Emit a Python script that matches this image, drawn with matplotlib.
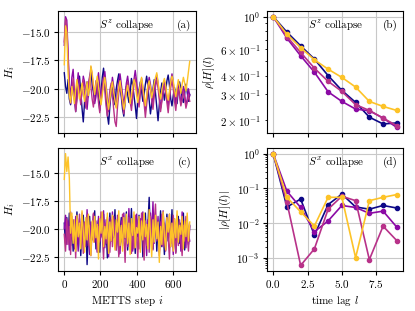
import numpy as np
import matplotlib
matplotlib.use("Agg")
import matplotlib.pyplot as plt

plt.rcParams['font.family'] = 'serif'
plt.rcParams['font.serif'] = ['cmr10']
plt.rcParams['mathtext.fontset'] = 'cm'
plt.rcParams['axes.formatter.use_mathtext'] = True
plt.rcParams['font.size'] = 8
for a in ['xtick', 'ytick']:
    plt.rcParams[a + '.major.size'] = 3.0
    plt.rcParams[a + '.minor.size'] = 1.8
    plt.rcParams[a + '.major.pad'] = 2.2
    plt.rcParams[a + '.minor.pad'] = 2.2
plt.rcParams['axes.labelpad'] = 2.5

colors = ['#0d0887', '#8b0aa5', '#b83289', '#fdc328']

# METTS time series, sampled every 7 steps
step_stride = 7
A_navy = [-18.6,-19.8,-20.4,-19.2,-20.9,-21.4,-20.1,-19.5,-20.8,-22.0,
-20.6,-19.3,-18.9,-20.2,-21.7,-22.9,-21.2,-20.0,-19.4,-20.7,
-19.1,-18.4,-19.6,-20.3,-21.0,-20.1,-19.2,-20.6,-21.9,-20.4,
-19.0,-18.2,-19.5,-20.8,-22.3,-23.1,-21.5,-20.2,-19.6,-20.9,
-21.4,-20.0,-19.3,-18.7,-19.9,-20.7,-21.8,-22.4,-21.1,-19.8,
-20.5,-21.2,-20.3,-19.1,-19.7,-20.6,-21.5,-22.6,-21.0,-20.1,
-19.4,-20.2,-21.1,-20.5,-19.6,-18.9,-19.8,-21.0,-22.2,-21.3,
-20.0,-19.2,-20.4,-21.6,-22.8,-21.4,-20.3,-19.5,-20.1,-21.0,
-20.2,-19.3,-18.8,-19.7,-20.9,-21.5,-20.6,-19.9,-20.7,-21.3,
-20.1,-19.4,-20.0,-20.8,-21.2,-20.4,-19.6,-20.3,-21.1,-20.5]
A_purple = [-16.2,-13.7,-14.0,-16.8,-19.6,-20.8,-19.0,-18.3,-20.4,-21.5,
-19.8,-18.6,-19.9,-21.2,-20.3,-18.9,-19.4,-20.6,-21.8,-20.5,
-19.2,-18.1,-18.8,-20.0,-21.3,-20.7,-19.5,-18.6,-19.9,-21.0,
-20.2,-19.1,-18.5,-19.7,-20.8,-22.0,-21.2,-20.1,-19.0,-19.8,
-20.9,-21.6,-20.4,-19.3,-18.7,-19.6,-20.5,-21.4,-20.6,-19.5,
-18.9,-19.8,-20.7,-21.5,-20.3,-19.2,-18.4,-19.3,-20.4,-21.2,
-20.0,-19.1,-19.9,-21.0,-21.9,-20.8,-19.7,-19.0,-19.6,-20.5,
-21.3,-20.2,-19.4,-18.8,-19.5,-20.6,-21.7,-21.0,-20.1,-19.3,
-19.9,-20.8,-21.6,-20.5,-19.4,-18.7,-19.5,-20.6,-21.4,-20.3,
-19.6,-20.4,-21.2,-20.7,-19.8,-20.5,-21.5,-20.9,-20.0,-20.6]
A_magenta = [-15.9,-13.9,-14.6,-17.2,-20.1,-21.3,-20.2,-19.1,-20.6,-22.0,
-21.0,-19.7,-20.3,-21.4,-20.0,-19.2,-20.5,-21.7,-20.8,-19.6,
-18.9,-19.8,-20.9,-21.6,-20.4,-19.3,-20.0,-21.2,-22.1,-20.9,
-19.8,-19.0,-20.2,-21.5,-22.4,-21.3,-20.1,-19.5,-20.6,-21.8,
-22.9,-23.3,-21.6,-20.4,-19.7,-20.5,-21.4,-22.2,-21.0,-20.0,
-19.4,-20.3,-21.1,-21.9,-20.7,-19.6,-19.0,-19.9,-20.8,-21.6,
-20.5,-19.5,-20.2,-21.3,-22.5,-21.4,-20.3,-19.6,-20.1,-21.0,
-21.8,-20.6,-19.8,-19.2,-19.9,-21.0,-22.0,-21.1,-20.4,-19.7,
-20.3,-21.2,-22.1,-20.9,-19.9,-19.3,-20.0,-21.1,-21.9,-20.8,
-20.0,-20.7,-21.5,-21.0,-20.2,-20.8,-21.7,-21.2,-20.5,-21.1]
A_yellow = [-17.9,-14.5,-15.1,-18.6,-20.6,-21.2,-19.8,-20.5,-21.3,-20.1,
-19.2,-20.0,-20.9,-20.3,-19.5,-20.4,-21.1,-20.2,-19.4,-20.6,
-19.9,-18.0,-18.6,-19.7,-20.5,-19.6,-18.9,-19.8,-20.7,-21.4,
-20.6,-19.7,-19.0,-19.9,-21.1,-21.8,-20.9,-20.0,-19.4,-20.3,
-21.0,-21.7,-20.8,-19.9,-19.3,-20.2,-21.0,-21.8,-21.2,-20.3,
-19.7,-20.4,-21.3,-20.6,-19.8,-19.2,-19.6,-20.5,-21.2,-20.4,
-19.6,-19.0,-19.8,-20.7,-21.5,-20.6,-19.7,-19.3,-19.9,-20.8,
-20.2,-19.5,-19.0,-18.6,-19.4,-20.3,-20.9,-20.1,-19.5,-19.1,
-19.7,-20.5,-21.0,-20.2,-19.4,-18.9,-19.3,-20.1,-20.7,-19.9,
-19.2,-19.8,-20.4,-19.6,-19.0,-19.5,-20.2,-19.4,-18.5,-17.6]

C_navy = [-19.5,-21.3,-19.0,-20.8,-18.6,-21.5,-19.8,-22.0,-19.3,-20.6,
-18.5,-21.2,-19.6,-22.4,-20.1,-18.8,-21.0,-19.4,-23.2,-20.3,
-18.9,-21.6,-19.7,-20.9,-18.4,-21.8,-20.0,-19.2,-22.1,-19.5,
-20.7,-18.7,-21.4,-19.9,-22.6,-20.2,-18.6,-21.1,-19.3,-20.8,
-18.3,-21.7,-19.8,-22.3,-20.4,-19.0,-21.3,-19.6,-20.9,-18.5,
-21.9,-19.4,-20.6,-18.2,-21.5,-20.0,-22.2,-19.1,-20.7,-18.8,
-21.2,-19.5,-22.5,-20.3,-18.6,-21.4,-19.7,-17.2,-20.8,-19.2,
-21.8,-20.1,-18.9,-22.0,-19.6,-20.5,-18.4,-21.6,-19.9,-22.3,
-20.2,-18.7,-21.1,-19.4,-20.9,-18.3,-21.7,-19.8,-22.1,-20.4,
-18.9,-21.3,-19.5,-20.7,-18.6,-21.9,-20.0,-19.3,-21.4,-19.7]
C_purple = [-20.0,-18.8,-21.4,-19.3,-21.9,-18.5,-20.7,-19.2,-21.8,-18.9,
-20.4,-22.0,-19.1,-21.3,-18.6,-20.9,-19.5,-21.6,-18.3,-20.6,
-22.3,-19.4,-21.0,-18.7,-20.5,-19.8,-22.1,-18.9,-21.2,-19.6,
-20.8,-18.4,-21.7,-19.2,-20.3,-22.5,-19.0,-21.1,-18.5,-20.6,
-19.7,-21.9,-18.8,-20.4,-22.2,-19.3,-21.5,-18.6,-20.8,-19.4,
-21.6,-18.2,-20.9,-19.5,-22.0,-19.0,-21.2,-18.7,-20.3,-21.8,
-19.1,-20.6,-18.5,-21.4,-19.8,-22.4,-19.2,-21.0,-18.6,-20.5,
-17.6,-21.3,-19.7,-20.8,-18.9,-22.1,-19.4,-21.5,-18.4,-20.2,
-21.9,-19.0,-20.7,-18.7,-21.6,-19.5,-22.3,-19.1,-20.9,-18.8,
-21.2,-19.6,-22.0,-18.5,-20.6,-19.9,-21.7,-19.2,-20.4,-21.1]
C_magenta = [-20.5,-22.0,-19.1,-21.4,-19.8,-22.3,-18.9,-21.0,-19.6,-22.6,
-19.2,-20.8,-18.7,-21.7,-20.0,-22.2,-19.4,-20.9,-18.8,-21.5,
-19.7,-22.4,-20.1,-18.6,-21.2,-19.3,-22.0,-19.8,-21.1,-18.5,
-20.6,-22.7,-19.5,-21.3,-19.0,-20.8,-22.1,-19.2,-21.6,-18.9,
-20.3,-21.9,-19.6,-22.5,-19.9,-21.1,-18.7,-20.5,-23.0,-19.4,
-21.4,-19.0,-20.7,-22.2,-19.5,-21.8,-18.8,-20.4,-22.6,-19.7,
-21.2,-18.6,-20.9,-22.8,-19.3,-21.5,-19.9,-22.1,-18.9,-20.6,
-21.9,-19.4,-17.8,-21.1,-19.8,-22.4,-20.2,-18.7,-21.6,-19.5,
-22.0,-19.1,-20.8,-22.7,-19.6,-21.3,-18.8,-20.5,-22.2,-19.9,
-21.5,-19.2,-20.9,-22.4,-19.7,-21.1,-18.9,-20.6,-22.0,-19.8]
C_yellow = [-15.6,-13.3,-14.9,-13.6,-15.5,-20.4,-18.6,-21.3,-19.2,-22.0,
-18.8,-20.7,-19.5,-21.8,-18.4,-20.2,-22.1,-19.0,-21.0,-18.7,
-20.5,-22.4,-19.3,-21.2,-18.9,-20.8,-19.6,-22.7,-19.1,-20.4,
-18.5,-21.6,-19.8,-20.9,-18.6,-22.2,-19.4,-21.1,-18.8,-20.6,
-21.9,-19.2,-20.3,-18.4,-21.5,-19.7,-22.0,-19.0,-20.8,-18.7,
-21.3,-19.5,-22.3,-19.1,-20.6,-18.5,-21.7,-19.9,-20.4,-18.9,
-22.1,-19.3,-21.0,-18.6,-20.7,-19.6,-21.8,-18.3,-20.5,-22.5,
-19.2,-21.2,-18.8,-20.9,-19.4,-23.0,-19.8,-21.4,-18.5,-20.6,
-21.9,-19.0,-20.3,-18.7,-21.6,-19.5,-22.0,-19.1,-20.8,-18.4,
-21.2,-19.7,-20.5,-18.9,-21.8,-19.3,-20.7,-18.6,-21.1,-19.4]

# autocorrelation vs lag
lags = [0, 1, 2, 3, 4, 5, 6, 7, 8, 9]
B_navy = [1.0, 0.785, 0.635, 0.517, 0.40, 0.318, 0.264, 0.21, 0.189, 0.192]
B_purple = [1.0, 0.715, 0.544, 0.422, 0.311, 0.268, 0.238, 0.232, 0.207, 0.179]
B_magenta = [1.0, 0.733, 0.573, 0.449, 0.366, 0.313, 0.255, 0.233, 0.207, 0.184]
B_yellow = [1.0, 0.76, 0.618, 0.511, 0.442, 0.389, 0.335, 0.268, 0.248, 0.233]

D_navy = [1.0, 0.029, 0.049, 0.0045, 0.034, 0.068, 0.029, 0.025, 0.032, 0.027]
D_purple = [1.0, 0.082, 0.028, 0.0056, 0.0115, 0.032, 0.028, 0.019, 0.022, 0.0076]
D_magenta = [1.0, 0.039, 0.0006, 0.0018, 0.025, 0.059, 0.044, 0.00088, 0.0081, 0.0031]
D_yellow = [1.0, 0.055, 0.021, 0.0082, 0.055, 0.055, 0.001, 0.044, 0.055, 0.066]

fig = plt.figure(figsize=(4.15, 3.11), dpi=100)
W, H = 415, 311
def rect(l, t, r, b):
    return [l / W, 1 - b / H, (r - l) / W, (b - t) / H]

ax_a = fig.add_axes(rect(58, 11, 196, 133))
ax_c = fig.add_axes(rect(58, 148, 196, 271), sharex=ax_a)
ax_b = fig.add_axes(rect(267, 11, 403, 133))
ax_d = fig.add_axes(rect(267, 148, 403, 271), sharex=ax_b)

for ax, series in [(ax_a, [A_navy, A_purple, A_magenta, A_yellow]),
                   (ax_c, [C_navy, C_purple, C_magenta, C_yellow])]:
    for s, c in zip(series, colors):
        x = np.arange(len(s)) * step_stride
        ax.plot(x, s, color=c, lw=1.0)
    ax.set_ylabel(r'$H_i$')
    ax.set_yticks([-15.0, -17.5, -20.0, -22.5])
    ax.grid(True, color='#c8c8c8', lw=0.8)

for ax, series in [(ax_b, [B_navy, B_purple, B_magenta, B_yellow]),
                   (ax_d, [D_navy, D_purple, D_magenta, D_yellow])]:
    for s, c in zip(series, colors):
        ax.plot(lags, s, color=c, lw=1.2, marker='o', ms=3)
    ax.set_yscale('log')
    ax.grid(True, color='#c8c8c8', lw=0.8)

ax_a.set_ylim(-23.87, -13.2)
ax_c.set_ylim(-23.77, -12.8)
ax_a.set_xticks([0, 200, 400, 600])
ax_b.set_xticks([0.0, 2.5, 5.0, 7.5])
plt.setp(ax_a.get_xticklabels(), visible=False)
plt.setp(ax_b.get_xticklabels(), visible=False)

ax_b.set_ylabel(r'$\rho[H](l)$')
ax_d.set_ylabel(r'$|\rho[H](l)|$')
ax_c.set_xlabel(r'METTS step $i$')
ax_d.set_xlabel(r'time lag $l$')

for ax, lab, op in [(ax_a, '(a)', 'z'), (ax_b, '(b)', 'z'), (ax_c, '(c)', 'x'), (ax_d, '(d)', 'x')]:
    ax.text(0.30, 0.88, r'$S^%s$ collapse' % op, transform=ax.transAxes, ha='left', va='center')
    ax.text(0.965, 0.88, lab, transform=ax.transAxes, ha='right', va='center')

fig.savefig('out.png', dpi=100)
